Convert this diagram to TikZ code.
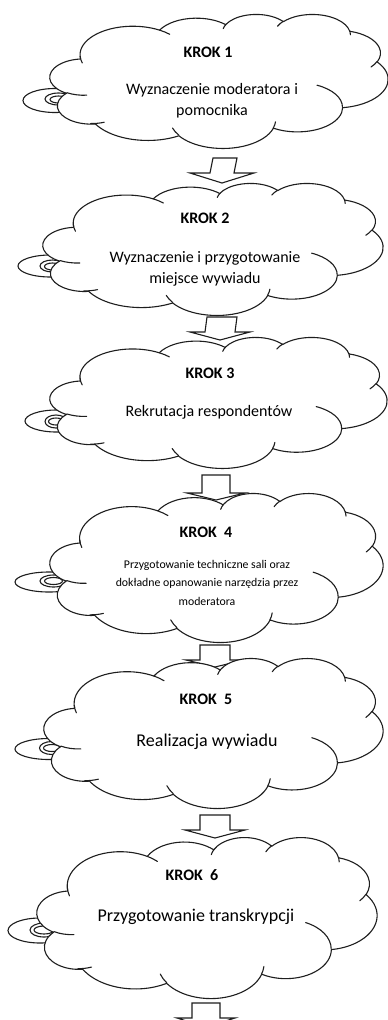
\documentclass[tikz,border=0pt]{standalone}
\usepackage{fontspec}
\setmainfont{Carlito}
\usetikzlibrary{calc}

\definecolor{linegray}{RGB}{30,30,30}

% --- cloud outline built from elliptical arcs in a 432 x 432 path space ---
\newcommand\cldmove[2]{%
  \pgfmathsetmacro\cldpx{\cldx+#1/432*\cldW}%
  \pgfmathsetmacro\cldpy{-(\cldy+#2/432*\cldH)}%
  \pgfpathmoveto{\pgfpoint{\cldpx pt}{\cldpy pt}}}
% #1,#2 radii, #3 start angle, #4 sweep (angles as seen, clockwise on screen)
\newcommand\cldarc[4]{%
  \pgfmathsetmacro\cldq{#1/#2}%
  \pgfmathsetmacro\cldta{atan2(\cldq*sin(#3),cos(#3))}%
  \pgfmathsetmacro\cldtb{atan2(\cldq*sin(#3+#4),cos(#3+#4))}%
  \pgfmathsetmacro\cldtb{(\cldta)+mod((\cldtb)-(\cldta)+720,360)}%
  \pgfmathsetmacro\cldrx{#1/432*\cldW}%
  \pgfmathsetmacro\cldry{#2/432*\cldH}%
  \pgfmathsetmacro\cldsa{-(\cldta)}%
  \pgfmathsetmacro\cldea{-(\cldtb)}%
  \pgfpatharc{\cldsa}{\cldea}{\cldrx pt and \cldry pt}}

% #1 left, #2 top, #3 width, #4 height (y grows downwards)
\newcommand\wordcloud[4]{%
  \begin{pgfscope}
  \def\cldx{#1}\def\cldy{#2}\def\cldW{#3}\def\cldH{#4}%
  \pgfsetlinewidth{1.1pt}\pgfsetstrokecolor{linegray}\pgfsetfillcolor{white}%
  \pgfsetroundjoin\pgfsetroundcap
  \cldmove{39.00}{143.70}%
  \cldarc{67.53}{91.90}{-190.4875}{123.7805}%
  \cldarc{53.33}{72.67}{-144.1024}{89.9452}%
  \cldarc{43.65}{59.45}{-145.8079}{99.7230}%
  \cldarc{48.57}{65.95}{-130.9861}{117.2417}%
  \cldarc{53.33}{72.73}{-78.7089}{109.0269}%
  \cldarc{67.75}{92.20}{-46.2673}{130.2690}%
  \cldarc{57.85}{78.67}{0.6250}{114.0333}%
  \cldarc{67.52}{92.15}{22.4516}{115.1726}%
  \cldarc{77.20}{105.43}{66.2426}{75.7110}%
  \cldarc{43.60}{59.18}{-274.9421}{146.7356}%
  \cldarc{43.45}{59.45}{-246.8285}{152.5189}%
  \pgfpathclose
  \pgfusepath{fill,stroke}%
  % inner creases of the puffs
  \cldmove{46.93}{261.77}\cldarc{43.45}{59.45}{86.7420}{26.4295}%
  \cldmove{69.28}{348.99}\cldarc{43.60}{59.18}{73.6105}{17.6027}%
  \cldmove{164.78}{390.90}\cldarc{67.52}{92.15}{137.6242}{18.7976}%
  \cldmove{288.27}{347.51}\cldarc{67.52}{92.15}{6.4533}{17.3330}%
  \cldmove{341.29}{229.54}\cldarc{57.85}{78.67}{-70.2924}{70.7747}%
  \cldmove{417.98}{153.54}\cldarc{53.33}{72.73}{30.3180}{17.8925}%
  \cldmove{383.24}{54.26}\cldarc{48.57}{65.95}{-13.7443}{14.8534}%
  \cldmove{290.78}{39.52}\cldarc{48.57}{65.95}{-149.1815}{18.1959}%
  \cldmove{221.41}{47.20}\cldarc{43.65}{59.45}{-163.4943}{17.6875}%
  \cldmove{140.00}{51.92}\cldarc{67.53}{91.90}{-66.7070}{12.3194}%
  \cldmove{41.27}{157.89}\cldarc{67.53}{91.90}{157.9785}{18.1055}%
  \pgfusepath{stroke}%
  \end{pgfscope}}

\tikzset{
  tailring/.style={draw=linegray, line width=1.1pt, fill=white},
  arrowbody/.style={draw=linegray, line width=1.1pt, fill=white, line join=miter},
  steptitle/.style={anchor=base, font=\bfseries\fontsize{16}{20}\selectfont, text=black},
  steptext/.style={anchor=base, align=center, font=\fontsize{16}{20.5}\selectfont, text=black},
}

% block arrow: #1 top-centre coordinate, #2 tip coordinate,
% #3 half shaft width, #4 half head width, #5 head depth
\newcommand\blockarrow[5]{%
  \draw[arrowbody] ($(#1)+(-#3,0)$) -- ($(#1)+(#3,0)$) -- ($(#2)+(#3,-#5)$)
    -- ($(#2)+(#4,-#5)$) -- (#2) -- ($(#2)+(-#4,-#5)$) -- ($(#2)+(-#3,-#5)$) -- cycle;}

\begin{document}
\begin{tikzpicture}[x=1pt, y=-1pt]
\useasboundingbox[fill=white] (0,0) rectangle (388,1020);

% multi-line texts are placed by the baseline of their last line

% ---------- step 1 ----------
\draw[tailring] (55,100.5) ellipse [x radius=32, y radius=12];
\draw[tailring] (58.5,99) ellipse [x radius=13.5, y radius=6];
\draw[tailring] (58.5,99.5) ellipse [x radius=8.5, y radius=3.5];
\wordcloud{50}{14}{338}{134}
\node[steptitle] (k1) at (208,57) {KROK 1};
\node[steptext] (t1) at (212,115) {Wyznaczenie moderatora i\\pomocnika};

% ---------- step 2 ----------
\coordinate (a1t) at (225,158);
\coordinate (a1b) at (222,183);
\blockarrow{a1t}{a1b}{12}{32}{10}
\draw[tailring] (50.5,266) ellipse [x radius=32.5, y radius=11];
\draw[tailring] (52.5,266) ellipse [x radius=12.5, y radius=6];
\draw[tailring] (52.5,266.5) ellipse [x radius=8, y radius=3.5];
\wordcloud{43}{183}{340}{132}
\node[steptitle] (k2) at (205,223) {KROK 2};
\node[steptext] (t2) at (205,283) {Wyznaczenie i przygotowanie\\miejsce wywiadu};

% ---------- step 3 ----------
\coordinate (a2t) at (222,317);
\coordinate (a2b) at (220,340);
\blockarrow{a2t}{a2b}{15}{30}{8}
\draw[tailring] (56.5,421) ellipse [x radius=31.5, y radius=11];
\draw[tailring] (56,421.5) ellipse [x radius=11, y radius=6.5];
\draw[tailring] (56,421.5) ellipse [x radius=7.5, y radius=3.5];
\wordcloud{50}{337}{337}{131}
\node[steptitle] (k3) at (210,378) {KROK 3};
\node[steptext] (t3) at (209,416) {Rekrutacja respondentów};

% ---------- step 4 ----------
\coordinate (a3t) at (216,475);
\coordinate (a3b) at (216,500);
\blockarrow{a3t}{a3b}{14}{29}{7}
\draw[tailring] (49,582) ellipse [x radius=34, y radius=10];
\draw[tailring] (53.5,581) ellipse [x radius=13.5, y radius=6];
\draw[tailring] (53.5,581) ellipse [x radius=9, y radius=3.5];
\wordcloud{50}{493}{333}{149}
\node[steptitle] (k4) at (206,537) {KROK\ \ 4};
\node[steptext, font=\fontsize{11.8}{18.5}\selectfont] (t4) at (207,605)
  {Przygotowanie techniczne sali oraz\\dokładne opanowanie narzędzia przez\\moderatora};

% ---------- step 5 ----------
\coordinate (a4t) at (215,645);
\coordinate (a4b) at (215,667);
\blockarrow{a4t}{a4b}{15}{29}{7}
\draw[tailring] (49,749) ellipse [x radius=34, y radius=10.5];
\draw[tailring] (52,748) ellipse [x radius=12.5, y radius=6.5];
\draw[tailring] (52,748) ellipse [x radius=8.5, y radius=3.5];
\wordcloud{44}{658}{339}{150}
\node[steptitle] (k5) at (206,704) {KROK\ \ 5};
\node[steptext, font=\fontsize{18}{22}\selectfont] (t5) at (207,746) {Realizacja wywiadu};

% ---------- step 6 ----------
\coordinate (a5t) at (215,815);
\coordinate (a5b) at (215,838);
\blockarrow{a5t}{a5b}{15}{30}{8}
\draw[tailring] (40,930.5) ellipse [x radius=32, y radius=12.5];
\draw[tailring] (44,930) ellipse [x radius=14, y radius=7];
\draw[tailring] (44,930) ellipse [x radius=10, y radius=4];
\wordcloud{37}{837}{340}{161}
\node[steptitle] (k6) at (192,880) {KROK\ \ 6};
\node[steptext, font=\fontsize{18}{22}\selectfont] (t6) at (196,921) {Przygotowanie transkrypcji};

% ---------- onward ----------
\coordinate (a6t) at (206,1003);
\coordinate (a6b) at (206,1027);
\blockarrow{a6t}{a6b}{14}{29}{9}
\end{tikzpicture}
\end{document}
